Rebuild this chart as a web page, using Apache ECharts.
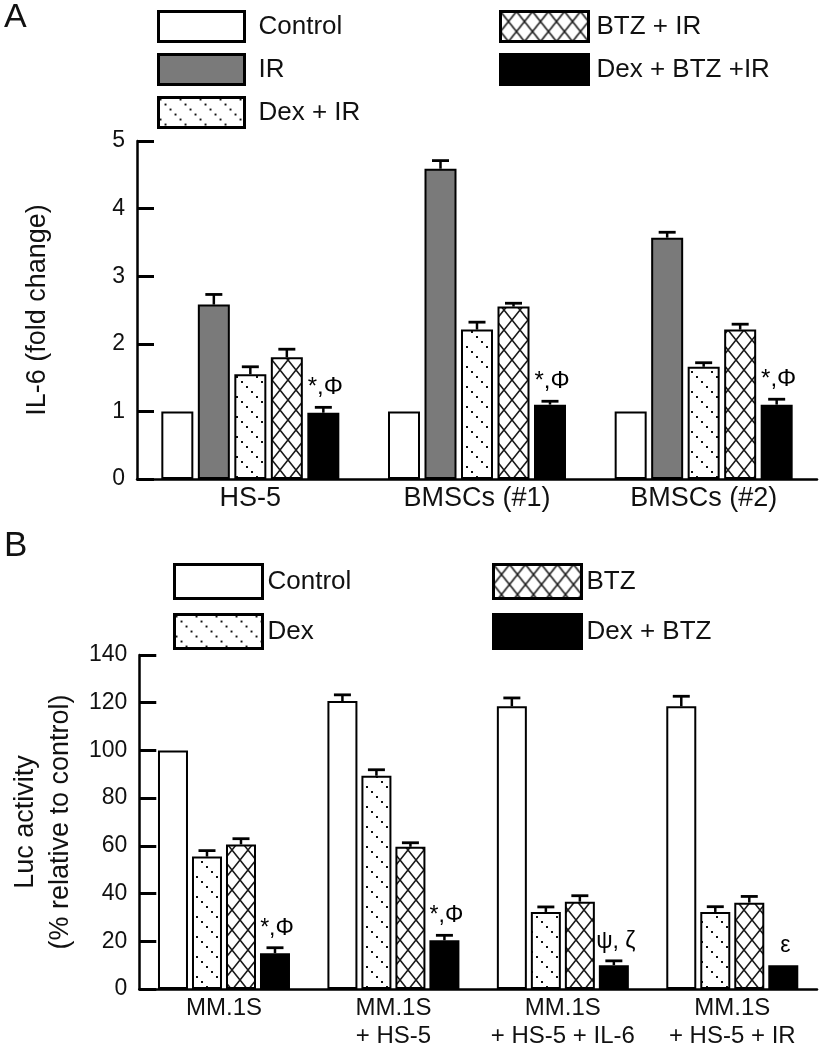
<!DOCTYPE html>
<html>
<head>
<meta charset="utf-8">
<script src="https://cdn.jsdelivr.net/npm/echarts@6/dist/echarts.min.js"></script>
<style>
html,body{margin:0;padding:0;background:#fff;}
#chart{width:820px;height:1050px;}
</style>
</head>
<body>
<div id="chart"></div>
<script>
// ---------- Panel A data ----------
const catsA = ['HS-5', 'BMSCs (#1)', 'BMSCs (#2)'];
const namesA = ['Control', 'IR', 'Dex + IR', 'BTZ + IR', 'Dex + BTZ +IR'];
const controlA = [1, 1, 1];
const controlAErr = [0, 0, 0];
const irA = [2.58, 4.59, 3.57];
const irAErr = [0.15, 0.12, 0.08];
const dexIrA = [1.55, 2.21, 1.66];
const dexIrAErr = [0.11, 0.11, 0.06];
const btzIrA = [1.80, 2.55, 2.21];
const btzIrAErr = [0.12, 0.05, 0.08];
const dexBtzIrA = [0.98, 1.10, 1.10];
const dexBtzIrAErr = [0.08, 0.05, 0.08];
const annotA = ['*,Φ', '*,Φ', '*,Φ'];
const ticksA = [0, 1, 2, 3, 4, 5];

// ---------- Panel B data ----------
const catsB = ['MM.1S', 'MM.1S\n+ HS-5', 'MM.1S\n+ HS-5 + IL-6', 'MM.1S\n+ HS-5 + IR'];
const namesB = ['Control', 'Dex', 'BTZ', 'Dex + BTZ'];
const controlB = [100, 120.7, 118.5, 118.5];
const controlBErr = [0, 2.6, 3.5, 4.2];
const dexB = [55.5, 89.4, 32.3, 32.3];
const dexBErr = [2.5, 2.5, 2.1, 2.2];
const btzB = [60.6, 59.6, 36.6, 36.2];
const btzBErr = [2.4, 1.7, 2.5, 2.6];
const dexBtzB = [15.0, 20.4, 10.0, 10.0];
const dexBtzBErr = [2.3, 2.1, 1.8, 0];
const annotB = ['*,Φ', '*,Φ', 'ψ, ζ', 'ε'];
const ticksB = [0, 20, 40, 60, 80, 100, 120, 140];

// ---------- patterns ----------
function dotPattern() {
  const c = document.createElement('canvas');
  c.width = 20; c.height = 20;
  const g = c.getContext('2d');
  g.fillStyle = '#fff'; g.fillRect(0, 0, 20, 20);
  g.fillStyle = '#111';
  for (let i = 0; i < 4; i++) g.fillRect(1 + i * 5, 1 + i * 5, 2, 2);
  return { image: c, repeat: 'repeat' };
}
function crossPattern() {
  const c = document.createElement('canvas');
  c.width = 16; c.height = 20;
  const g = c.getContext('2d');
  g.fillStyle = '#fff'; g.fillRect(0, 0, 16, 20);
  g.strokeStyle = '#1a1a1a'; g.lineWidth = 1.6;
  g.beginPath();
  g.moveTo(0, 0); g.lineTo(16, 20);
  g.moveTo(16, 0); g.lineTo(0, 20);
  g.stroke();
  return { image: c, repeat: 'repeat' };
}
const fills = {
  white: '#ffffff',
  gray: '#7a7a7a',
  dots: dotPattern(),
  cross: crossPattern(),
  black: '#000000'
};
const fillA = [fills.white, fills.gray, fills.dots, fills.cross, fills.black];
const fillB = [fills.white, fills.dots, fills.cross, fills.black];

const FONT = 'Liberation Sans, Arial, sans-serif';
const valsA = [controlA, irA, dexIrA, btzIrA, dexBtzIrA];
const errsA = [controlAErr, irAErr, dexIrAErr, btzIrAErr, dexBtzIrAErr];
const valsB = [controlB, dexB, btzB, dexBtzB];
const errsB = [controlBErr, dexBErr, btzBErr, dexBtzBErr];

const BW_A = 32, GAP_A = 4.5, BW_B = 30, GAP_B = 4;

function errData(vals, errs) {
  const out = [];
  vals.forEach((arr, s) => arr.forEach((v, c) => out.push([c, s, v, errs[s][c]])));
  return out;
}

function makeErrRender(n, bw, gap, annots, fontSize) {
  return function (params, api) {
    const c = api.value(0), s = api.value(1), v = api.value(2), e = api.value(3);
    const base = api.coord([c, v]);
    const top = api.coord([c, v + e]);
    const x = base[0] + (s - (n - 1) / 2) * (bw + gap);
    const children = [];
    if (e > 0) {
      children.push({ type: 'line', shape: { x1: x, y1: base[1], x2: x, y2: top[1] },
        style: { stroke: '#000', lineWidth: 2.5 } });
      children.push({ type: 'line', shape: { x1: x - 8.5, y1: top[1], x2: x + 8.5, y2: top[1] },
        style: { stroke: '#000', lineWidth: 2.8 } });
    }
    if (s === n - 1 && annots[c]) {
      children.push({ type: 'text', style: { text: annots[c], x: x + 2, y: top[1] - 8,
        textAlign: 'center', textVerticalAlign: 'bottom', fill: '#000',
        font: fontSize + 'px ' + FONT } });
    }
    return { type: 'group', children: children };
  };
}

const series = [];
namesA.forEach((nm, i) => {
  series.push({ name: nm, type: 'bar', xAxisIndex: 0, yAxisIndex: 0, data: valsA[i],
    barWidth: BW_A, barGap: (GAP_A / BW_A * 100) + '%',
    itemStyle: { color: fillA[i], borderColor: '#000', borderWidth: 2 }, silent: true });
});
namesB.forEach((nm, i) => {
  series.push({ name: nm, type: 'bar', xAxisIndex: 1, yAxisIndex: 1, data: valsB[i],
    barWidth: BW_B, barGap: (GAP_B / BW_B * 100) + '%',
    itemStyle: { color: fillB[i], borderColor: '#000', borderWidth: 2 }, silent: true });
});
series.push({ type: 'custom', xAxisIndex: 0, yAxisIndex: 0, clip: false, silent: true, z: 5,
  encode: { x: 0, y: 2 }, data: errData(valsA, errsA),
  renderItem: makeErrRender(namesA.length, BW_A, GAP_A, annotA, 24) });
series.push({ type: 'custom', xAxisIndex: 1, yAxisIndex: 1, clip: false, silent: true, z: 5,
  encode: { x: 0, y: 2 }, data: errData(valsB, errsB),
  renderItem: makeErrRender(namesB.length, BW_B, GAP_B, annotB, 23) });

function catAxis(gi, data, fs, margin) {
  return { type: 'category', gridIndex: gi, data: data,
    axisLine: { lineStyle: { color: '#000', width: 2.5 } },
    axisTick: { inside: true, length: 8, lineStyle: { color: '#000', width: 2.5 } },
    axisLabel: { color: '#111', fontSize: fs, fontFamily: FONT, margin: margin, lineHeight: 28, interval: 0 },
    splitLine: { show: false } };
}
function valAxis(gi, max, interval, name, gap, nameLH) {
  return { type: 'value', gridIndex: gi, min: 0, max: max, interval: interval,
    name: name, nameLocation: 'middle', nameGap: gap,
    nameTextStyle: { color: '#111', fontSize: 27, fontFamily: FONT, lineHeight: nameLH },
    axisLine: { show: true, lineStyle: { color: '#000', width: 2.5 } },
    axisTick: { show: true, inside: true, length: 17, lineStyle: { color: '#000', width: 3 } },
    axisLabel: { color: '#111', fontSize: 23, fontFamily: FONT, margin: 12 },
    splitLine: { show: false } };
}

function legend(names, left, top, w, h, gap, padLeft) {
  return { data: names, orient: 'vertical', left: left, top: top, padding: 0,
    itemWidth: w, itemHeight: h, itemGap: gap, selectedMode: false, icon: 'rect',
    itemStyle: { borderColor: '#000', borderWidth: 3 },
    textStyle: { color: '#111', fontSize: 26, fontFamily: FONT, padding: [0, 0, 0, padLeft] } };
}

const option = {
  backgroundColor: '#fff',
  animation: false,
  title: [
    { text: 'A', left: 4, top: 1, padding: 0, textStyle: { fontSize: 34, fontWeight: 'normal', color: '#111', fontFamily: FONT } },
    { text: 'B', left: 4, top: 529, padding: 0, textStyle: { fontSize: 35, fontWeight: 'normal', color: '#111', fontFamily: FONT } }
  ],
  legend: [
    legend(['Control', 'IR', 'Dex + IR'], 157, 10, 86, 30, 10, 9),
    legend(['BTZ + IR', 'Dex + BTZ +IR'], 499, 10, 88, 30, 10, 3),
    legend(['Control', 'Dex'], 173, 563, 88, 34, 13, 0),
    legend(['BTZ', 'Dex + BTZ'], 492, 563, 88, 34, 13, 0)
  ],
  grid: [
    { left: 137, right: 3, top: 141, height: 338 },
    { left: 137, right: 3, top: 655, height: 336.7 }
  ],
  xAxis: [catAxis(0, catsA, 27, 6), catAxis(1, catsB, 24, 5)],
  yAxis: [valAxis(0, ticksA[ticksA.length - 1], ticksA[1] - ticksA[0], 'IL-6 (fold change)', 84, 30),
          valAxis(1, ticksB[ticksB.length - 1], ticksB[1] - ticksB[0], 'Luc activity\n(% relative to control)', 52, 35)],
  series: series
};

const chart = echarts.init(document.getElementById('chart'), null, { renderer: 'canvas' });
chart.setOption(option);
</script>
</body>
</html>
